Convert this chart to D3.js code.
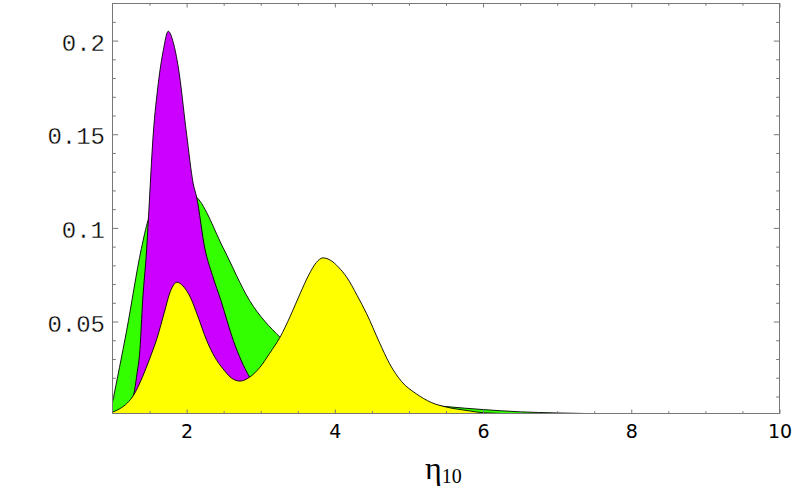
<!DOCTYPE html>
<html>
<head>
<meta charset="utf-8">
<script src="https://cdn.jsdelivr.net/npm/d3@7"></script>
<style>
  body { margin: 0; background: #fff; }
  svg { display: block; }
</style>
</head>
<body>
<div id="chart"></div>
<script>
// curves: [eta10, density]
var greenPts = [
  [1.0, 0.0069], [1.19, 0.045], [1.39, 0.089], [1.48, 0.104], [1.6, 0.112],
  [1.8, 0.117], [2.0, 0.1195], [2.135, 0.1164], [2.5, 0.0888], [2.85, 0.0612],
  [3.26, 0.0416], [3.6, 0.030], [4.0, 0.020], [4.5, 0.011], [5.0, 0.0065],
  [5.5, 0.0046], [6.0, 0.0030], [6.5, 0.0018], [7.0, 0.0012], [7.5, 0.0008],
  [8.0, 0.0005], [9.0, 0.0002], [10.0, 0.0001]
];
var magentaPts = [
  [1.0, 0.0010], [1.15, 0.0040], [1.28, 0.0104], [1.33, 0.022], [1.37, 0.035],
  [1.407, 0.0612], [1.461, 0.0888], [1.483, 0.1039], [1.55, 0.1502], [1.617, 0.1769],
  [1.685, 0.1947], [1.752, 0.205], [1.82, 0.199], [1.887, 0.186], [2.0, 0.150],
  [2.09, 0.1235], [2.135, 0.1164], [2.247, 0.0888], [2.35, 0.0745], [2.463, 0.0612],
  [2.63, 0.0399], [2.85, 0.0203], [3.0, 0.012], [3.3, 0.005], [3.6, 0.002],
  [4.0, 0.001], [5.0, 0.0002]
];
var yellowPts = [
  [1.0, 0.0016], [1.1, 0.0035], [1.2, 0.0065], [1.28, 0.0104], [1.4, 0.020],
  [1.5, 0.030], [1.6, 0.041], [1.7, 0.055], [1.78, 0.066], [1.87, 0.071],
  [1.95, 0.069], [2.05, 0.063], [2.15, 0.053], [2.27, 0.040], [2.38, 0.031],
  [2.49, 0.0248], [2.6, 0.020], [2.72, 0.0182], [2.85, 0.0203], [2.99, 0.0256],
  [3.12, 0.033], [3.26, 0.0416], [3.4, 0.053], [3.53, 0.0648], [3.65, 0.075],
  [3.75, 0.0815], [3.84, 0.084], [3.95, 0.0825], [4.05, 0.079], [4.16, 0.0737],
  [4.3, 0.064], [4.43, 0.0541], [4.6, 0.039], [4.74, 0.0274], [4.9, 0.018],
  [5.1, 0.0114], [5.3, 0.0068], [5.51, 0.0043], [5.8, 0.0024], [6.0, 0.0013],
  [6.5, 0.0007], [7.0, 0.0004], [8.0, 0.0002], [10.0, 0.0]
];
var series = [
  { name: "green", color: "#33ff00", pts: greenPts },
  { name: "magenta", color: "#cc00ff", pts: magentaPts },
  { name: "yellow", color: "#ffff00", pts: yellowPts }
];

var xMajor = [2, 4, 6, 8, 10];
var xMinor = d3.range(1.5, 10, 0.5).filter(function (v) { return v % 2 !== 0; });
var yMajor = [0.05, 0.1, 0.15, 0.2];
var yLabels = ["0.05", "0.1", "0.15", "0.2"];
var yMinor = d3.range(1, 22).filter(function (i) { return i % 5 !== 0; }).map(function (i) { return i / 100; });

(function () {
  var W = 795, H = 491;
  var mLeft = 112.5, mRight = 779.5, mTop = 3.5, mBottom = 413.5;

  var svg = d3.select("#chart").append("svg").attr("width", W).attr("height", H);

  var x = d3.scaleLinear().domain([1, 10]).range([mLeft, mRight]);
  var y = d3.scaleLinear().domain([0.0009, 0.2198]).range([mBottom, mTop]);

  svg.append("clipPath").attr("id", "clip")
    .append("rect").attr("x", mLeft).attr("y", mTop)
    .attr("width", mRight - mLeft).attr("height", mBottom - mTop);

  var plot = svg.append("g").attr("clip-path", "url(#clip)");

  var area = d3.area()
    .x(function (d) { return x(d[0]); })
    .y0(y(0))
    .y1(function (d) { return y(d[1]); })
    .curve(d3.curveMonotoneX);
  var line = d3.line()
    .x(function (d) { return x(d[0]); })
    .y(function (d) { return y(d[1]); })
    .curve(d3.curveMonotoneX);

  // green first, yellow last (on top)
  series.forEach(function (s) {
    plot.append("path").attr("d", area(s.pts)).attr("fill", s.color).attr("stroke", "none");
    plot.append("path").attr("d", line(s.pts)).attr("fill", "none")
      .attr("stroke", "#000").attr("stroke-width", 0.9);
  });

  var frameColor = "#777";

  function styleAxis(g) {
    g.select(".domain").remove();
    g.selectAll(".tick line").attr("stroke", frameColor);
  }

  // bottom
  svg.append("g").attr("transform", "translate(0," + mBottom + ")")
    .call(d3.axisBottom(x).tickValues(xMajor).tickSize(-4).tickPadding(11)
      .tickFormat(d3.format("d")))
    .call(styleAxis)
    .selectAll("text").attr("font-family", "DejaVu Sans").attr("font-size", 19).attr("fill", "#000");
  svg.append("g").attr("transform", "translate(0," + mBottom + ")")
    .call(d3.axisBottom(x).tickValues(xMinor).tickSize(-2.3).tickFormat(""))
    .call(styleAxis);
  // top
  svg.append("g").attr("transform", "translate(0," + mTop + ")")
    .call(d3.axisTop(x).tickValues(xMajor).tickSize(-4).tickFormat(""))
    .call(styleAxis);
  svg.append("g").attr("transform", "translate(0," + mTop + ")")
    .call(d3.axisTop(x).tickValues(xMinor).tickSize(-2.3).tickFormat(""))
    .call(styleAxis);
  // left
  svg.append("g").attr("transform", "translate(" + mLeft + ",0)")
    .call(d3.axisLeft(y).tickValues(yMajor).tickSize(-5.7).tickPadding(7.5)
      .tickFormat(function (d, i) { return yLabels[i]; }))
    .call(styleAxis)
    .selectAll("text").attr("font-family", "Liberation Mono").attr("font-size", 24)
    .attr("fill", "#000").attr("stroke", "#fff").attr("stroke-width", 0.35)
    .attr("dy", "0.4em");
  svg.append("g").attr("transform", "translate(" + mLeft + ",0)")
    .call(d3.axisLeft(y).tickValues(yMinor).tickSize(-3.3).tickFormat(""))
    .call(styleAxis);
  // right
  svg.append("g").attr("transform", "translate(" + mRight + ",0)")
    .call(d3.axisRight(y).tickValues(yMajor).tickSize(-5.7).tickFormat(""))
    .call(styleAxis);
  svg.append("g").attr("transform", "translate(" + mRight + ",0)")
    .call(d3.axisRight(y).tickValues(yMinor).tickSize(-3.3).tickFormat(""))
    .call(styleAxis);

  // frame
  svg.append("rect").attr("x", mLeft).attr("y", mTop)
    .attr("width", mRight - mLeft).attr("height", mBottom - mTop)
    .attr("fill", "none").attr("stroke", frameColor).attr("stroke-width", 1);

  // x axis title
  var title = svg.append("text").attr("x", 425).attr("y", 478.5)
    .attr("font-family", "Liberation Serif").attr("fill", "#000");
  title.append("tspan").attr("font-size", 32).text("η");
  title.append("tspan").attr("font-size", 20).attr("dy", 4).text("10");
})();
</script>
</body>
</html>
